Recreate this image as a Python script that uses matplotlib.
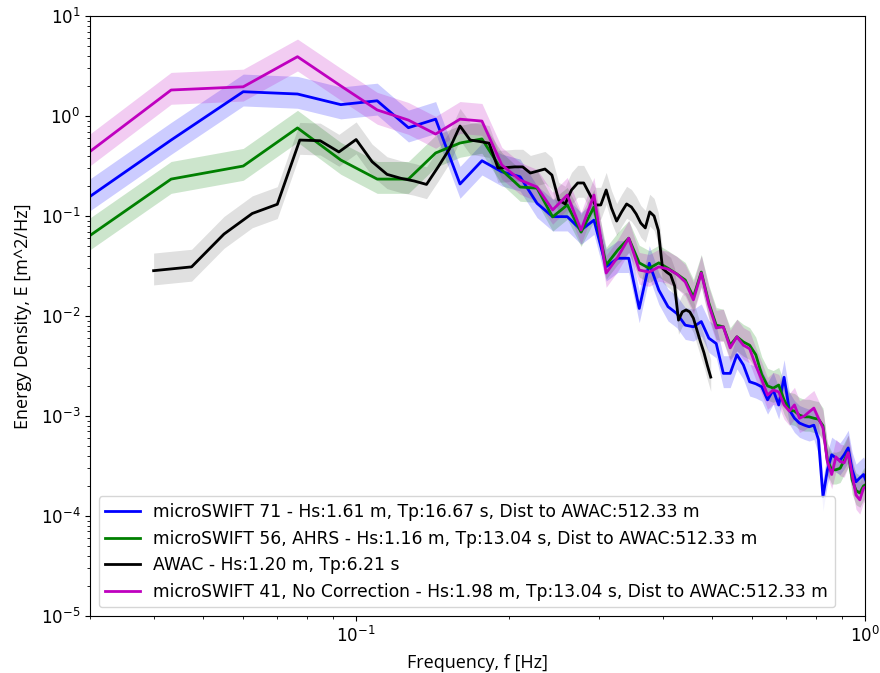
import numpy as np
import matplotlib
matplotlib.use("Agg")
import matplotlib.pyplot as plt

# ==========================================
# 頻率軸 (microSWIFT 與 AWAC)
# ==========================================
f_swift = [0.0267, 0.0433, 0.0600, 0.0767, 0.0933, 0.1100, 0.1267, 0.1433, 0.1600, 0.1767,
           0.1933, 0.2100, 0.2267, 0.2433, 0.2600, 0.2767, 0.2933, 0.3100, 0.3267, 0.3433,
           0.3600, 0.3767, 0.3933, 0.4100, 0.4267, 0.4433, 0.4600, 0.4767, 0.4933, 0.5100,
           0.5267, 0.5433, 0.5600, 0.5767, 0.5933, 0.6100, 0.6267, 0.6433, 0.6600, 0.6767,
           0.6933, 0.7100, 0.7267, 0.7433, 0.7600, 0.7767, 0.7933, 0.8100, 0.8267, 0.8433,
           0.8600, 0.8767, 0.8933, 0.9100, 0.9267, 0.9433, 0.9600, 0.9767, 0.9933, 1.0100]

f_awac = [0.0400, 0.0475, 0.0550, 0.0625, 0.0700, 0.0775, 0.0850, 0.0925, 0.1000, 0.1075,
          0.1150, 0.1225, 0.1300, 0.1375, 0.1450, 0.1525, 0.1600, 0.1675, 0.1750, 0.1825,
          0.1900, 0.1975, 0.2050, 0.2125, 0.2200, 0.2275, 0.2350, 0.2425, 0.2500, 0.2575,
          0.2650, 0.2725, 0.2800, 0.2875, 0.2950, 0.3025, 0.3100, 0.3175, 0.3250, 0.3325,
          0.3400, 0.3475, 0.3550, 0.3625, 0.3700, 0.3775, 0.3850, 0.3925, 0.4000, 0.4075,
          0.4150, 0.4225, 0.4300, 0.4375, 0.4450, 0.4525, 0.4600, 0.4675, 0.4750, 0.4825,
          0.4900, 0.4975]

# ==========================================
# 能量密度 E [m^2/Hz]
# ==========================================
E_ms71 = [0.104, 0.575, 1.75, 1.66, 1.30, 1.42, 0.764, 0.93, 0.209, 0.357,
          0.277, 0.247, 0.134, 0.0985, 0.0985, 0.0724, 0.091, 0.0311, 0.0378, 0.0378,
          0.0119, 0.0337, 0.0182, 0.0124, 0.0106, 0.0081, 0.0078, 0.0088, 0.0060, 0.0053,
          0.00267, 0.00267, 0.0041, 0.00324, 0.0022, 0.0021, 0.00196, 0.00145, 0.00182, 0.00129,
          0.00244, 0.00115, 0.00095, 0.00085, 0.00081, 0.00078, 0.00081, 0.00058, 0.000156, 0.000288,
          0.00041, 0.00038, 0.00036, 0.00041, 0.00048, 0.00029, 0.00022, 0.00024, 0.00026, 0.00021]

E_ms56 = [0.0423, 0.234, 0.316, 0.76, 0.363, 0.234, 0.234, 0.427, 0.537, 0.59,
          0.288, 0.195, 0.19, 0.098, 0.129, 0.069, 0.123, 0.0324, 0.0457, 0.060,
          0.034, 0.030, 0.034, 0.030, 0.0263, 0.0229, 0.0155, 0.0275, 0.0135, 0.0081,
          0.0078, 0.0051, 0.0062, 0.0055, 0.0051, 0.0041, 0.0026, 0.0020, 0.0019, 0.00204,
          0.00145, 0.00115, 0.00112, 0.00102, 0.00098, 0.00098, 0.00095, 0.00093, 0.0008, 0.00036,
          0.00029, 0.00029, 0.0003, 0.00036, 0.00043, 0.00023, 0.00018, 0.00017, 0.0002, 0.00021]

E_awac = [0.0284, 0.031, 0.066, 0.106, 0.131, 0.575, 0.566, 0.437, 0.582, 0.349,
          0.261, 0.238, 0.224, 0.207, 0.311, 0.468, 0.794, 0.575, 0.556, 0.535,
          0.302, 0.305, 0.31, 0.31, 0.269, 0.282, 0.295, 0.257, 0.145, 0.132,
          0.182, 0.214, 0.214, 0.166, 0.129, 0.129, 0.182, 0.120, 0.089, 0.110,
          0.132, 0.123, 0.105, 0.085, 0.076, 0.110, 0.100, 0.072, 0.030, 0.0275,
          0.0257, 0.020, 0.0091, 0.011, 0.0115, 0.011, 0.0095, 0.0072, 0.0055, 0.0043,
          0.0032, 0.00245]

E_ms41 = [0.282, 1.82, 1.96, 3.92, 2.0, 1.15, 0.91, 0.66, 0.93, 0.89,
          0.324, 0.229, 0.195, 0.115, 0.162, 0.0724, 0.162, 0.0269, 0.0389, 0.060,
          0.0288, 0.0275, 0.031, 0.0295, 0.0263, 0.0219, 0.0145, 0.0269, 0.0129, 0.0076,
          0.0078, 0.0048, 0.0062, 0.0051, 0.0047, 0.0032, 0.0023, 0.00162, 0.00182, 0.00174,
          0.00129, 0.00112, 0.00129, 0.00095, 0.0010, 0.0011, 0.0012, 0.00095, 0.00076, 0.00035,
          0.00026, 0.00039, 0.00035, 0.00034, 0.00043, 0.00026, 0.000162, 0.000145, 0.00019, 0.0002]

# 95% 信賴區間倍率 (上/下)
CI_UPPER = 1.5
CI_LOWER = 0.72

series = [
    (f_swift, E_ms71, 'b', 0.2, 'microSWIFT 71 - Hs:1.61 m, Tp:16.67 s, Dist to AWAC:512.33 m'),
    (f_swift, E_ms56, 'g', 0.2, 'microSWIFT 56, AHRS - Hs:1.16 m, Tp:13.04 s, Dist to AWAC:512.33 m'),
    (f_awac, E_awac, 'k', 0.12, 'AWAC - Hs:1.20 m, Tp:6.21 s'),
    (f_swift, E_ms41, 'm', 0.2, 'microSWIFT 41, No Correction - Hs:1.98 m, Tp:13.04 s, Dist to AWAC:512.33 m'),
]

fig = plt.figure(figsize=(8.8, 6.73), dpi=100)
ax = fig.add_axes([0.1023, 0.0847, 0.8807, 0.8915])

for f, E, c, a, lab in series:
    f = np.array(f)
    E = np.array(E)
    ax.plot(f, E, color=c, linewidth=2, label=lab)
    ax.fill_between(f, E * CI_LOWER, E * CI_UPPER, color=c, alpha=a, linewidth=0)

ax.set_xscale('log')
ax.set_yscale('log')
ax.set_xlim(0.03, 1.0)
ax.set_ylim(1e-5, 1e1)
ax.tick_params(axis='both', which='major', labelsize=12)
ax.set_xlabel('Frequency, f [Hz]', fontsize=13, family='Open Sans', labelpad=6)
ax.set_ylabel('Energy Density, E [m^2/Hz]', fontsize=13, family='Open Sans', labelpad=6)
ax.legend(loc='lower left', fontsize=12.3)

fig.savefig('out.png', dpi=100)
